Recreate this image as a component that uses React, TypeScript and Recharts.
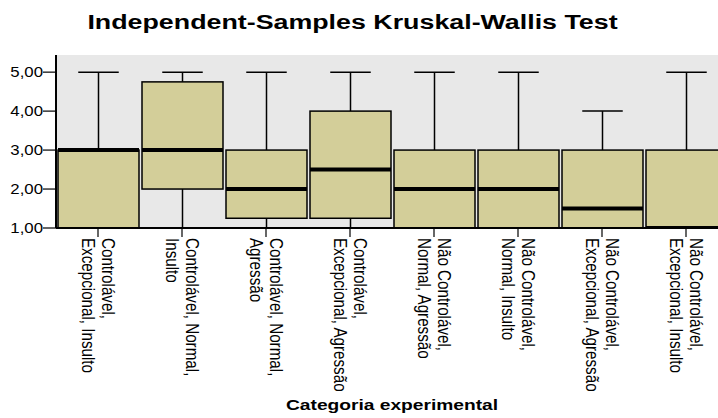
import React from 'react';
import { ComposedChart, Bar, XAxis, YAxis, CartesianGrid } from 'recharts';

const categories = [
  'Controlável,\nExcepcional, Insulto',
  'Controlável, Normal,\nInsulto',
  'Controlável, Normal,\nAgressão',
  'Controlável,\nExcepcional, Agressão',
  'Não Controlável,\nNormal, Agressão',
  'Não Controlável,\nNormal, Insulto',
  'Não Controlável,\nExcepcional, Agressão',
  'Não Controlável,\nExcepcional, Insulto',
];
const minValues = [1, 1, 1, 1, 1, 1, 1, 1];
const q1Values = [1, 2, 1.25, 1.25, 1, 1, 1, 1];
const medianValues = [3, 3, 2, 2.5, 2, 2, 1.5, 1];
const q3Values = [3, 4.75, 3, 4, 3, 3, 3, 3];
const maxValues = [5, 5, 5, 5, 5, 5, 4, 5];
const yTicks = [1, 2, 3, 4, 5];
const yTickLabels = ['1,00', '2,00', '3,00', '4,00', '5,00'];

const data = categories.map((name, i) => ({
  name,
  range: [minValues[i], maxValues[i]],
  min: minValues[i],
  q1: q1Values[i],
  median: medianValues[i],
  q3: q3Values[i],
  max: maxValues[i],
}));

const FONT = '"Liberation Sans", Arial, sans-serif';
const BOX_FILL = '#D3CE99';

const BoxShape = (props: any) => {
  const { x, y, width, height, payload } = props;
  const lo = payload.min;
  const hi = payload.max;
  const pix = (v: number) => y + (height * (hi - v)) / (hi - lo);
  const cx = x + width / 2;
  const capHalf = width / 4;
  const yMax = pix(payload.max);
  const yMin = pix(payload.min);
  const yQ3 = pix(payload.q3);
  const yQ1 = pix(payload.q1);
  const yMed = pix(payload.median);
  return (
    <g>
      <line x1={cx} x2={cx} y1={yMax} y2={yQ3} stroke="#000" strokeWidth={1.5} />
      <line x1={cx} x2={cx} y1={yQ1} y2={yMin} stroke="#000" strokeWidth={1.5} />
      <line x1={cx - capHalf} x2={cx + capHalf} y1={yMax} y2={yMax} stroke="#000" strokeWidth={1.5} />
      <rect x={x} y={yQ3} width={width} height={yQ1 - yQ3} fill={BOX_FILL} stroke="#000" strokeWidth={1.5} />
      <line x1={x} x2={x + width} y1={yMed} y2={yMed} stroke="#000" strokeWidth={4} />
    </g>
  );
};

const XTick = (props: any) => {
  const { x, y, payload } = props;
  const lines = String(payload.value).split('\n');
  return (
    <g transform={`translate(${x},${y}) scale(1.2,1) rotate(90)`}>
      {lines.map((l, i) => (
        <text key={i} x={0} y={-3 + i * 16.6} fill="#000" fontSize={15.2} fontFamily={FONT} textAnchor="start">
          {l}
        </text>
      ))}
    </g>
  );
};

const YTick = (props: any) => {
  const { x, y, payload } = props;
  return (
    <g transform={`translate(${x + 1},${y}) scale(1.2,1)`}>
      <text x={0} y={0} dy="0.355em" fill="#000" fontSize={14} fontFamily={FONT} textAnchor="end">
        {yTickLabels[yTicks.indexOf(payload.value)]}
      </text>
    </g>
  );
};

const XTitle = (props: any) => {
  const vb = props.viewBox || { x: 56, y: 228, width: 672, height: 190 };
  const cx = vb.x + vb.width / 2;
  const by = vb.y + vb.height - 8;
  return (
    <g transform={`translate(${cx},${by}) scale(1.37,1)`}>
      <text x={0} y={0} fill="#000" fontSize={14} fontWeight="bold" fontFamily={FONT} textAnchor="middle">
        Categoria experimental
      </text>
    </g>
  );
};

export default function App() {
  return (
    <div style={{ position: 'absolute', left: 0, top: 0, width: 718, height: 418, overflow: 'hidden', background: '#fff' }}>
      <div
        style={{
          position: 'absolute',
          left: 0,
          top: 11,
          width: 705,
          textAlign: 'center',
          fontFamily: FONT,
          fontWeight: 'bold',
          fontSize: 20,
          color: '#000',
          whiteSpace: 'nowrap',
          transform: 'scaleX(1.34)',
          transformOrigin: '352.5px 0',
        }}
      >
        Independent-Samples Kruskal-Wallis Test
      </div>
      <div style={{ position: 'absolute', left: 0, top: 0 }}>
        <ComposedChart width={740} height={418} data={data} margin={{ top: 55, right: 12, left: 0, bottom: 0 }}>
          <CartesianGrid fill="#E8E8E8" horizontal={false} vertical={false} />
          <XAxis
            xAxisId="top"
            dataKey="name"
            orientation="top"
            height={0}
            tick={false}
            tickLine={false}
            axisLine={{ stroke: '#222', strokeWidth: 2 }}
          />
          <XAxis
            dataKey="name"
            interval={0}
            height={190}
            tickSize={9}
            tickMargin={1}
            tick={<XTick />}
            tickLine={{ stroke: '#000', strokeWidth: 1.2 }}
            axisLine={{ stroke: '#000', strokeWidth: 2 }}
            label={<XTitle />}
          />
          <YAxis
            type="number"
            domain={[1, 5.44]}
            ticks={yTicks}
            allowDataOverflow
            width={56}
            tickSize={13}
            tickMargin={1}
            tick={<YTick />}
            tickLine={{ stroke: '#000', strokeWidth: 1.2 }}
            axisLine={{ stroke: '#000', strokeWidth: 2 }}
          />
          <Bar dataKey="range" barSize={81} isAnimationActive={false} shape={<BoxShape />} />
        </ComposedChart>
      </div>
    </div>
  );
}
